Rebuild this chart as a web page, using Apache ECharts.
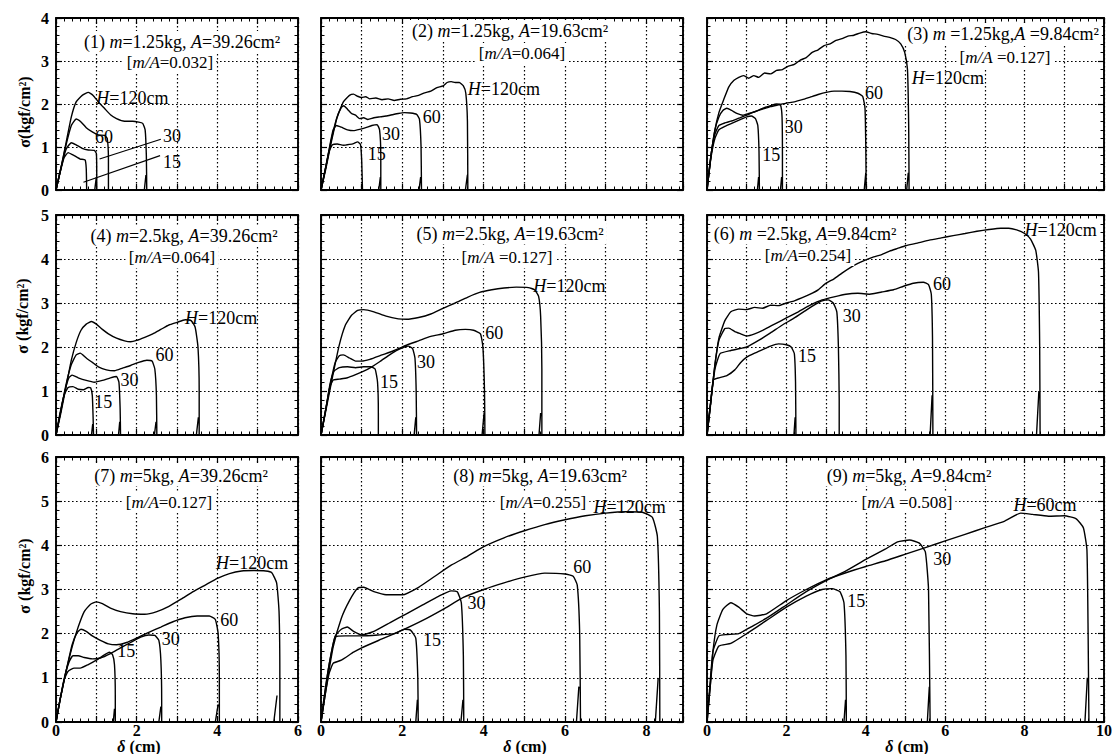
<!DOCTYPE html>
<html><head><meta charset="utf-8">
<script src="https://cdn.jsdelivr.net/npm/echarts@6/dist/echarts.min.js"></script>
<style>html,body{margin:0;padding:0;background:#fff}#c{width:1117px;height:754px}</style>
</head><body><div id="c"></div>
<script>
// ---------------- axis ranges and tick labels ----------------
const xMax = [6, 8.9, 10];
const yMax = [4, 5, 6];
const xTickLabels = [[0, 2, 4, 6], [0, 2, 4, 6, 8], [0, 2, 4, 6, 8, 10]];
const yTickLabels = [[0, 1, 2, 3, 4], [0, 1, 2, 3, 4, 5], [0, 1, 2, 3, 4, 5, 6]];

// ---------------- curves: [delta (cm), sigma (kgf/cm2)] ----------------
// Panel 1: m=1.25kg, A=39.26cm2
const p1_H120 = [[0,0],[0.12,0.5],[0.25,1.1],[0.38,1.7],[0.5,2.05],[0.65,2.2],[0.8,2.27],[0.92,2.2],[1.05,2.05],[1.2,1.9],[1.35,1.75],[1.5,1.66],[1.7,1.6],[1.9,1.6],[2.05,1.58],[2.15,1.55],[2.21,1.4],[2.24,0.8],[2.25,0],[2.19,0],[2.23,0.35]];
const p1_H60 = [[0,0],[0.12,0.5],[0.25,1.05],[0.38,1.5],[0.5,1.65],[0.6,1.6],[0.75,1.45],[0.9,1.35],[1.05,1.28],[1.2,1.27],[1.27,1.2],[1.3,0.7],[1.3,0]];
const p1_H30 = [[0,0],[0.12,0.5],[0.25,0.95],[0.38,1.1],[0.5,1.05],[0.65,0.97],[0.8,0.93],[0.95,0.92],[1.0,0.85],[1.01,0.4],[1.01,0],[0.96,0],[1.0,0.3]];
const p1_H15 = [[0,0],[0.1,0.4],[0.2,0.75],[0.3,0.87],[0.45,0.8],[0.6,0.72],[0.72,0.7],[0.75,0.5],[0.76,0]];
const p1_leader30 = [[2.6,1.18],[1.08,0.72]];
const p1_leader15 = [[2.58,0.8],[0.68,0.18]];
// Panel 2: m=1.25kg, A=19.63cm2
const p2_H120 = [[0,0],[0.12,0.5],[0.25,1.1],[0.4,1.7],[0.55,2.05],[0.7,2.2],[0.8,2.23],[0.9,2.18],[1.0,2.15],[1.1,2.17],[1.2,2.12],[1.35,2.14],[1.5,2.1],[1.65,2.12],[1.8,2.08],[1.95,2.11],[2.1,2.12],[2.25,2.17],[2.4,2.2],[2.55,2.26],[2.7,2.3],[2.85,2.38],[3.0,2.42],[3.1,2.5],[3.2,2.52],[3.3,2.5],[3.4,2.5],[3.5,2.42],[3.56,2.25],[3.6,1.6],[3.61,0],[3.55,0],[3.6,0.35]];
const p2_H60 = [[0,0],[0.12,0.55],[0.25,1.15],[0.38,1.65],[0.5,1.92],[0.56,1.96],[0.65,1.88],[0.75,1.78],[0.85,1.74],[0.95,1.66],[1.05,1.68],[1.15,1.64],[1.3,1.68],[1.45,1.7],[1.6,1.72],[1.75,1.75],[1.9,1.78],[2.05,1.8],[2.2,1.79],[2.35,1.76],[2.42,1.65],[2.46,1.0],[2.47,0],[2.41,0],[2.45,0.3]];
const p2_H30 = [[0,0],[0.12,0.55],[0.22,1.05],[0.3,1.4],[0.38,1.5],[0.5,1.46],[0.65,1.4],[0.8,1.38],[0.95,1.41],[1.1,1.45],[1.25,1.5],[1.38,1.52],[1.44,1.4],[1.47,0.8],[1.47,0],[1.42,0],[1.46,0.3]];
const p2_H15 = [[0,0],[0.1,0.45],[0.2,0.9],[0.28,1.05],[0.4,1.07],[0.55,1.04],[0.7,1.06],[0.8,1.08],[0.9,1.12],[0.97,1.06],[1.0,0.7],[1.02,0]];
// Panel 3: m=1.25kg, A=9.84cm2
const p3_H120 = [[0,0],[0.1,0.8],[0.2,1.4],[0.3,1.8],[0.42,2.1],[0.55,2.4],[0.68,2.55],[0.8,2.62],[0.92,2.66],[1.05,2.6],[1.18,2.66],[1.3,2.62],[1.45,2.72],[1.6,2.7],[1.75,2.78],[1.9,2.8],[2.05,2.88],[2.2,2.92],[2.35,3.02],[2.5,3.08],[2.65,3.2],[2.8,3.26],[2.95,3.36],[3.1,3.4],[3.25,3.48],[3.4,3.52],[3.55,3.58],[3.7,3.6],[3.85,3.65],[4.0,3.68],[4.15,3.64],[4.3,3.62],[4.45,3.58],[4.6,3.55],[4.75,3.5],[4.88,3.4],[4.98,3.2],[5.05,2.8],[5.08,1.5],[5.09,0],[5.03,0],[5.07,0.4]];
const p3_H60 = [[0,0],[0.1,0.8],[0.2,1.4],[0.3,1.7],[0.4,1.85],[0.5,1.9],[0.62,1.85],[0.75,1.78],[0.9,1.74],[1.05,1.78],[1.2,1.82],[1.4,1.88],[1.6,1.94],[1.8,1.98],[2.0,2.02],[2.2,2.05],[2.4,2.1],[2.6,2.16],[2.8,2.22],[3.0,2.27],[3.2,2.3],[3.4,2.3],[3.6,2.29],[3.8,2.25],[3.92,2.18],[3.98,1.9],[4.0,1.0],[4.01,0],[3.96,0],[4.0,0.4]];
const p3_H30 = [[0,0],[0.1,0.8],[0.2,1.3],[0.3,1.5],[0.45,1.56],[0.6,1.6],[0.8,1.67],[1.0,1.74],[1.2,1.82],[1.4,1.9],[1.6,1.96],[1.75,2.0],[1.85,1.98],[1.89,1.7],[1.9,0.8],[1.9,0],[1.85,0],[1.88,0.3]];
const p3_H15 = [[0,0],[0.1,0.75],[0.2,1.2],[0.3,1.4],[0.45,1.48],[0.65,1.56],[0.85,1.64],[1.0,1.7],[1.12,1.72],[1.22,1.66],[1.28,1.5],[1.31,0.9],[1.32,0],[1.27,0],[1.3,0.3]];
// Panel 4: m=2.5kg, A=39.26cm2
const p4_H120 = [[0,0],[0.12,0.5],[0.25,1.1],[0.38,1.7],[0.5,2.1],[0.62,2.38],[0.75,2.52],[0.88,2.58],[1.0,2.52],[1.15,2.4],[1.3,2.3],[1.5,2.2],[1.7,2.14],[1.85,2.12],[2.0,2.15],[2.2,2.22],[2.4,2.3],[2.6,2.4],[2.8,2.5],[3.0,2.56],[3.2,2.62],[3.35,2.6],[3.45,2.45],[3.52,2.0],[3.55,1.0],[3.55,0],[3.48,0],[3.53,0.4]];
const p4_H60 = [[0,0],[0.12,0.55],[0.25,1.15],[0.38,1.6],[0.5,1.82],[0.6,1.86],[0.75,1.75],[0.9,1.65],[1.05,1.55],[1.25,1.48],[1.45,1.46],[1.65,1.52],[1.85,1.58],[2.05,1.65],[2.25,1.7],[2.38,1.68],[2.45,1.5],[2.49,0.9],[2.5,0],[2.44,0],[2.48,0.3]];
const p4_H30 = [[0,0],[0.12,0.55],[0.22,1.0],[0.32,1.3],[0.4,1.36],[0.55,1.3],[0.75,1.24],[0.95,1.2],[1.15,1.24],[1.35,1.3],[1.5,1.33],[1.56,1.2],[1.59,0.6],[1.6,0],[1.55,0],[1.58,0.3]];
const p4_H15 = [[0,0],[0.1,0.5],[0.2,0.9],[0.3,1.08],[0.42,1.1],[0.55,1.04],[0.68,1.03],[0.8,1.08],[0.86,1.07],[0.9,0.9],[0.92,0.4],[0.93,0],[0.88,0],[0.91,0.25]];
// Panel 5: m=2.5kg, A=19.63cm2
const p5_H120 = [[0,0],[0.15,0.7],[0.3,1.4],[0.45,2.05],[0.6,2.5],[0.75,2.72],[0.9,2.83],[1.05,2.85],[1.3,2.8],[1.6,2.7],[1.9,2.64],[2.1,2.63],[2.4,2.67],[2.7,2.75],[3.0,2.88],[3.3,3.0],[3.6,3.13],[3.9,3.24],[4.2,3.3],[4.5,3.34],[4.8,3.36],[5.1,3.35],[5.25,3.3],[5.35,3.15],[5.4,2.7],[5.43,1.5],[5.43,0],[5.36,0],[5.4,0.5]];
const p5_H60 = [[0,0],[0.12,0.6],[0.25,1.25],[0.35,1.65],[0.45,1.8],[0.55,1.82],[0.7,1.75],[0.85,1.68],[1.0,1.68],[1.2,1.72],[1.5,1.82],[1.8,1.92],[2.1,2.04],[2.4,2.14],[2.7,2.24],[3.0,2.3],[3.3,2.38],[3.55,2.4],[3.75,2.38],[3.92,2.3],[3.98,2.0],[4.02,1.0],[4.03,0],[3.96,0],[4.01,0.5]];
const p5_H30 = [[0,0],[0.12,0.6],[0.22,1.1],[0.3,1.25],[0.45,1.27],[0.65,1.3],[0.85,1.37],[1.05,1.45],[1.25,1.55],[1.45,1.67],[1.65,1.8],[1.85,1.92],[2.05,2.0],[2.15,2.02],[2.25,1.97],[2.31,1.75],[2.34,1.0],[2.35,0],[2.29,0],[2.33,0.4]];
const p5_H15 = [[0,0],[0.12,0.6],[0.22,1.15],[0.32,1.45],[0.45,1.53],[0.65,1.55],[0.85,1.53],[1.05,1.55],[1.22,1.55],[1.33,1.5],[1.39,1.2],[1.41,0.5],[1.41,0]];
// Panel 6: m=2.5kg, A=9.84cm2
const p6_H120 = [[0,0],[0.1,0.8],[0.2,1.6],[0.3,2.2],[0.45,2.6],[0.6,2.8],[0.8,2.86],[1.0,2.85],[1.2,2.9],[1.4,2.88],[1.6,2.95],[1.8,2.94],[2.0,3.0],[2.2,3.05],[2.4,3.12],[2.6,3.2],[2.8,3.3],[3.0,3.45],[3.2,3.55],[3.4,3.68],[3.6,3.8],[3.8,3.9],[4.0,3.98],[4.2,4.05],[4.4,4.1],[4.6,4.18],[4.8,4.24],[5.0,4.3],[5.3,4.36],[5.6,4.43],[5.9,4.48],[6.2,4.53],[6.5,4.58],[6.8,4.63],[7.1,4.67],[7.4,4.7],[7.6,4.7],[7.8,4.66],[8.0,4.58],[8.15,4.45],[8.28,4.2],[8.35,3.7],[8.38,2.0],[8.39,0],[8.3,0],[8.36,1.0]];
const p6_H60 = [[0,0],[0.1,0.8],[0.2,1.6],[0.3,2.15],[0.45,2.42],[0.55,2.43],[0.7,2.35],[0.85,2.3],[1.0,2.25],[1.2,2.3],[1.45,2.4],[1.7,2.52],[2.0,2.66],[2.3,2.8],[2.6,2.95],[2.9,3.07],[3.2,3.14],[3.5,3.2],[3.8,3.22],[4.1,3.2],[4.4,3.25],[4.7,3.3],[4.95,3.38],[5.2,3.45],[5.45,3.47],[5.58,3.42],[5.65,3.2],[5.68,2.2],[5.69,0],[5.62,0],[5.67,0.9]];
const p6_H30 = [[0,0],[0.1,0.8],[0.2,1.5],[0.33,1.85],[0.6,1.92],[0.85,1.97],[1.0,2.0],[1.3,2.15],[1.6,2.32],[1.9,2.5],[2.2,2.66],[2.5,2.84],[2.75,2.98],[2.9,3.05],[3.05,3.07],[3.18,3.0],[3.27,2.8],[3.31,2.0],[3.33,0.8],[3.33,0]];
const p6_H15 = [[0,0],[0.08,0.6],[0.16,1.25],[0.3,1.3],[0.5,1.35],[0.7,1.48],[0.85,1.65],[1.0,1.77],[1.2,1.86],[1.4,1.94],[1.6,2.02],[1.8,2.07],[2.0,2.05],[2.12,2.0],[2.2,1.85],[2.23,1.2],[2.24,0],[2.19,0],[2.22,0.4]];
// Panel 7: m=5kg, A=39.26cm2
const p7_H120 = [[0,0],[0.1,0.5],[0.25,1.15],[0.4,1.7],[0.55,2.15],[0.7,2.5],[0.85,2.66],[1.0,2.72],[1.15,2.68],[1.35,2.58],[1.6,2.5],[1.9,2.45],[2.2,2.44],[2.5,2.5],[2.8,2.62],[3.1,2.78],[3.4,2.95],[3.7,3.1],[4.0,3.25],[4.3,3.36],[4.6,3.42],[4.9,3.43],[5.2,3.42],[5.35,3.38],[5.47,3.15],[5.53,2.5],[5.55,1.0],[5.55,0],[5.4,0],[5.48,0.6]];
const p7_H60 = [[0,0],[0.1,0.5],[0.25,1.15],[0.4,1.75],[0.52,2.02],[0.62,2.1],[0.75,2.05],[0.9,1.95],[1.1,1.85],[1.3,1.77],[1.5,1.75],[1.75,1.8],[2.0,1.9],[2.3,2.03],[2.6,2.15],[2.9,2.27],[3.2,2.36],[3.5,2.4],[3.8,2.4],[3.95,2.32],[4.02,2.0],[4.05,1.0],[4.05,0],[3.95,0],[4.02,0.4]];
const p7_H30 = [[0,0],[0.1,0.5],[0.22,1.05],[0.32,1.35],[0.42,1.5],[0.55,1.5],[0.7,1.46],[0.9,1.43],[1.1,1.45],[1.35,1.55],[1.6,1.68],[1.85,1.8],[2.1,1.92],[2.3,1.97],[2.45,1.96],[2.55,1.85],[2.6,1.4],[2.62,0.5],[2.62,0],[2.55,0],[2.6,0.35]];
const p7_H15 = [[0,0],[0.1,0.5],[0.2,0.95],[0.3,1.15],[0.45,1.22],[0.6,1.22],[0.8,1.3],[1.0,1.4],[1.2,1.52],[1.32,1.58],[1.4,1.53],[1.45,1.3],[1.47,0.6],[1.47,0],[1.42,0],[1.45,0.3]];
// Panel 8: m=5kg, A=19.63cm2
const p8_H120 = [[0,0],[0.15,0.9],[0.3,1.7],[0.5,2.35],[0.7,2.75],[0.9,3.03],[1.05,3.05],[1.3,2.95],[1.6,2.88],[2.0,2.88],[2.4,3.05],[2.8,3.3],[3.2,3.55],[3.6,3.75],[4.0,3.97],[4.5,4.17],[5.0,4.33],[5.5,4.47],[6.0,4.58],[6.5,4.67],[7.0,4.73],[7.5,4.76],[7.9,4.75],[8.15,4.63],[8.27,4.2],[8.32,2.5],[8.33,0],[8.22,0],[8.29,1.0]];
const p8_H60 = [[0,0],[0.1,0.6],[0.2,1.1],[0.3,1.33],[0.5,1.4],[0.8,1.58],[1.0,1.68],[1.5,1.88],[2.0,2.08],[2.5,2.3],[3.0,2.55],[3.5,2.82],[4.0,3.0],[4.5,3.15],[5.0,3.28],[5.5,3.37],[6.0,3.35],[6.2,3.3],[6.3,3.1],[6.36,2.0],[6.38,0],[6.28,0],[6.34,0.8]];
const p8_H30 = [[0,0],[0.1,0.7],[0.2,1.3],[0.35,1.95],[0.5,2.1],[0.65,2.15],[0.8,2.05],[1.0,1.97],[1.3,2.05],[1.7,2.25],[2.1,2.45],[2.5,2.65],[2.9,2.85],[3.2,2.97],[3.35,2.95],[3.45,2.7],[3.5,1.5],[3.51,0],[3.44,0],[3.49,0.5]];
const p8_H15 = [[0,0],[0.1,0.7],[0.2,1.3],[0.35,1.93],[0.6,1.95],[1.0,1.95],[1.4,1.97],[1.8,2.0],[2.05,2.1],[2.2,2.08],[2.33,1.9],[2.38,1.0],[2.39,0],[2.33,0],[2.37,0.5]];
// Panel 9: m=5kg, A=9.84cm2
const p9_H60 = [[0,0],[0.08,0.8],[0.15,1.6],[0.25,2.2],[0.4,2.55],[0.6,2.7],[0.8,2.6],[1.0,2.45],[1.2,2.4],[1.5,2.45],[2.0,2.75],[2.5,3.0],[3.0,3.22],[3.5,3.38],[4.0,3.52],[4.5,3.65],[5.0,3.8],[5.5,3.95],[6.0,4.1],[6.5,4.25],[7.0,4.4],[7.5,4.55],[7.9,4.73],[8.2,4.7],[8.6,4.66],[9.0,4.67],[9.3,4.6],[9.48,4.4],[9.57,3.9],[9.6,2.0],[9.62,0],[9.52,0],[9.58,1.0]];
const p9_H30 = [[0,0],[0.08,0.9],[0.15,1.6],[0.3,1.95],[0.5,1.98],[0.8,2.0],[1.1,2.15],[1.5,2.35],[2.0,2.65],[2.5,2.95],[3.0,3.2],[3.5,3.42],[4.0,3.68],[4.5,3.92],[4.8,4.08],[5.1,4.12],[5.35,4.05],[5.5,3.85],[5.58,3.0],[5.62,0],[5.55,0],[5.6,0.8]];
const p9_H15 = [[0,0],[0.08,0.8],[0.15,1.4],[0.3,1.72],[0.6,1.78],[1.0,2.0],[1.5,2.3],[2.0,2.6],[2.5,2.85],[2.9,3.0],[3.15,3.02],[3.35,2.95],[3.45,2.7],[3.5,1.5],[3.51,0],[3.45,0],[3.49,0.5]];

// ---------------- texts ----------------
const panelTitles = [
  ['(1) {i|m}=1.25kg, {i|A}=39.26cm²', '[{j|m/A}=0.032]'],
  ['(2) {i|m}=1.25kg, {i|A}=19.63cm²', '[{j|m/A}=0.064]'],
  ['(3) {i|m} =1.25kg,{i|A} =9.84cm²', '[{j|m/A} =0.127]'],
  ['(4) {i|m}=2.5kg, {i|A}=39.26cm²', '[{j|m/A}=0.064]'],
  ['(5) {i|m}=2.5kg, {i|A}=19.63cm²', '[{j|m/A} =0.127]'],
  ['(6) {i|m} =2.5kg, {i|A}=9.84cm²', '[{j|m/A}=0.254]'],
  ['(7) {i|m}=5kg, {i|A}=39.26cm²', '[{j|m/A}=0.127]'],
  ['(8) {i|m}=5kg, {i|A}=19.63cm²', '[{j|m/A}=0.255]'],
  ['(9) {i|m}=5kg, {i|A}=9.84cm²', '[{j|m/A} =0.508]']
];
const curveNames = ['{i|H}=120cm', '60', '30', '15'];
const curveNames9 = [null, '{i|H}=60cm', '30', '15'];
const yName = ['σ(kgf/cm²)', 'σ (kgf/cm²)', 'σ (kgf/cm²)'];
const xName = '{d|δ} (cm)';

// ---------------- layout (pixels) ----------------
const colLeft = [56, 321, 707], colWidth = [242, 362, 397];
const rowTop = [18, 215, 457], rowHeight = [172, 220, 265];
const titlePos = [ // [centerX, centerY] of each title line
  [[179, 41], [167, 62]], [[507, 30], [519, 53]], [[1000, 33], [1002, 57]],
  [[181, 235], [169, 257]], [[507, 233], [504, 257]], [[802, 233], [805, 255]],
  [[178, 475], [166, 502]], [[537, 475], [540, 502]], [[906, 475], [904, 502]]
];
// anchor (data coords, left-middle of text) of curve labels: H=120, 60, 30, 15
const labelAt = [
  [[1.0, 2.15], [0.97, 1.24], [2.65, 1.26], [2.65, 0.65]],
  [[3.61, 2.35], [2.5, 1.7], [1.5, 1.3], [1.15, 0.84]],
  [[5.16, 2.6], [3.98, 2.25], [1.96, 1.46], [1.39, 0.81]],
  [[3.2, 2.65], [2.47, 1.81], [1.6, 1.24], [0.95, 0.75]],
  [[5.22, 3.39], [4.04, 2.31], [2.36, 1.65], [1.45, 1.2]],
  [[8.0, 4.66], [5.69, 3.43], [3.42, 2.7], [2.29, 1.8]],
  [[3.97, 3.61], [4.07, 2.32], [2.62, 1.87], [1.52, 1.6]],
  [[6.7, 4.87], [6.2, 3.5], [3.6, 2.7], [2.51, 1.85]],
  [null, [7.72, 4.92], [5.7, 3.7], [3.53, 2.74]]
];

const panelCurves = [
  [p1_H120, p1_H60, p1_H30, p1_H15],
  [p2_H120, p2_H60, p2_H30, p2_H15],
  [p3_H120, p3_H60, p3_H30, p3_H15],
  [p4_H120, p4_H60, p4_H30, p4_H15],
  [p5_H120, p5_H60, p5_H30, p5_H15],
  [p6_H120, p6_H60, p6_H30, p6_H15],
  [p7_H120, p7_H60, p7_H30, p7_H15],
  [p8_H120, p8_H60, p8_H30, p8_H15],
  [p9_H60, p9_H30, p9_H15]
];

const FONT = '"Liberation Serif","Times New Roman",serif';
const TXT = 18, TXT2 = 17;
const richTxt = {
  i: {fontStyle: 'italic', fontFamily: FONT, fontSize: TXT, color: '#000'},
  j: {fontStyle: 'italic', fontFamily: FONT, fontSize: TXT2, color: '#000'},
  d: {fontStyle: 'italic', fontWeight: 'bold', fontFamily: FONT, fontSize: 16, color: '#000'}
};

const grids = [], xAxes = [], yAxes = [], series = [], titles = [], graphics = [];
const gridLine = {show: true, lineStyle: {color: '#000', type: [1.6, 2.4], width: 1.2}};
const axLine = {show: true, onZero: false, lineStyle: {color: '#000', width: 1.9}};
const tick = {show: true, inside: true, length: 6, lineStyle: {color: '#000', width: 1.2}};
const minor = {show: true, splitNumber: 5, length: 3.5, lineStyle: {color: '#000', width: 1}};

for (let i = 0; i < 9; i++) {
  const r = Math.floor(i / 3), c = i % 3;
  grids.push({left: colLeft[c], width: colWidth[c], top: rowTop[r], height: rowHeight[r], containLabel: false});
  const xBase = {gridIndex: i, type: 'value', min: 0, max: xMax[c], interval: 1,
    axisLine: axLine, axisTick: tick, minorTick: minor};
  xAxes.push(Object.assign({}, xBase, {position: 'bottom', splitLine: gridLine,
    axisLabel: {show: r === 2, margin: 1, fontFamily: FONT, fontWeight: 'bold', fontSize: 16, lineHeight: 15, color: '#000',
      showMaxLabel: true, showMinLabel: true,
      formatter: v => xTickLabels[c].indexOf(v) >= 0 ? String(v) : ''}}));
  xAxes.push(Object.assign({}, xBase, {position: 'top', splitLine: {show: false}, axisLabel: {show: false}}));
  const yBase = {gridIndex: i, type: 'value', min: 0, max: yMax[r], interval: 1,
    axisLine: axLine, axisTick: tick, minorTick: minor};
  yAxes.push(Object.assign({}, yBase, {position: 'left', splitLine: gridLine,
    axisLabel: {show: c === 0, margin: 7, fontFamily: FONT, fontWeight: 'bold', fontSize: 16, color: '#000',
      formatter: v => yTickLabels[r].indexOf(v) >= 0 ? String(v) : ''}}));
  yAxes.push(Object.assign({}, yBase, {position: 'right', splitLine: {show: false}, axisLabel: {show: false}}));

  panelCurves[i].forEach(d => series.push({
    type: 'line', xAxisIndex: 2 * i, yAxisIndex: 2 * i, data: d, symbol: 'none', showSymbol: false,
    smooth: 0.15, silent: true, lineStyle: {color: '#000', width: 1.4}, z: 3
  }));

  // curve labels
  const names = (i === 8) ? curveNames9 : curveNames;
  const lblData = [];
  labelAt[i].forEach((p, k) => { if (p) lblData.push({value: p, name: names[k]}); });
  series.push({
    type: 'scatter', xAxisIndex: 2 * i, yAxisIndex: 2 * i, symbolSize: 0, silent: true, z: 5,
    itemStyle: {opacity: 1, color: '#000'},
    data: lblData,
    label: {show: true, position: 'right', distance: 0, color: '#000', opacity: 1, fontFamily: FONT, fontSize: TXT,
      formatter: p => p.name, rich: richTxt}
  });

  // titles
  panelTitles[i].forEach((t, k) => {
    const [cx, cy] = titlePos[i][k];
    const fs = k === 0 ? TXT : TXT2;
    titles.push({text: t, left: cx, top: cy - 10, textAlign: 'center', padding: [1, 3],
      backgroundColor: '#fff', z: 8,
      textStyle: {fontFamily: FONT, fontSize: fs, fontWeight: 'normal', color: '#000', lineHeight: 19, rich: richTxt}});
  });
}

// leader lines for panel 1
[p1_leader30, p1_leader15].forEach(d => series.push({
  type: 'line', xAxisIndex: 0, yAxisIndex: 0, data: d, symbol: 'none', silent: true,
  lineStyle: {color: '#000', width: 1.2}, z: 3
}));

// x-axis names (bottom row)
[[139, 746], [525, 746], [907, 746]].forEach(([cx, cy]) => titles.push({
  text: xName, left: cx, top: cy - 8, textAlign: 'center', padding: 0,
  textStyle: {fontFamily: FONT, fontSize: 16, fontWeight: 'bold', color: '#000', lineHeight: 16, rich: richTxt}
}));

// y-axis names
[[24, 112], [22, 316], [24, 576]].forEach(([x, y], r) => graphics.push({
  type: 'text', x: x, y: y, rotation: Math.PI / 2, silent: true,
  style: {text: yName[r], fill: '#000', font: 'bold 16px ' + FONT,
    align: 'center', verticalAlign: 'middle', textAlign: 'center', textVerticalAlign: 'middle'}
}));

const chart = echarts.init(document.getElementById('c'), null, {renderer: 'svg'});
chart.setOption({
  animation: false,
  backgroundColor: '#fff',
  grid: grids, xAxis: xAxes, yAxis: yAxes, series: series, title: titles, graphic: graphics
});
</script></body></html>
